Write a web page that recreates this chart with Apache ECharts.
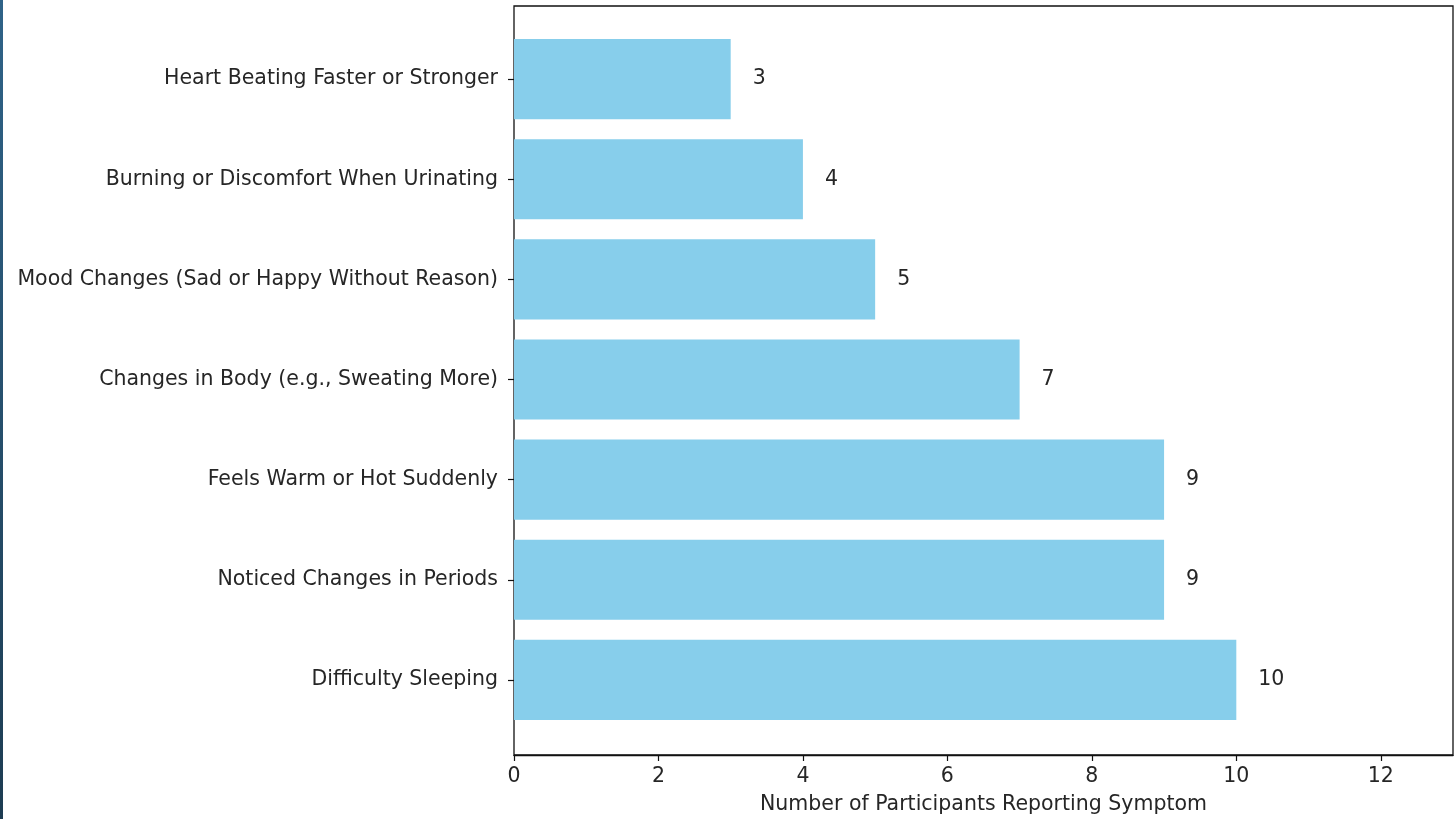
<!DOCTYPE html>
<html>
<head>
<meta charset="utf-8">
<script src="https://cdn.jsdelivr.net/npm/echarts@6/dist/echarts.min.js"></script>
<style>
html,body{margin:0;padding:0;background:#fff;}
#chart{width:1456px;height:819px;}
</style>
</head>
<body>
<div id="chart"></div>
<script>
const categories = [
  "Heart Beating Faster or Stronger",
  "Burning or Discomfort When Urinating",
  "Mood Changes (Sad or Happy Without Reason)",
  "Changes in Body (e.g., Sweating More)",
  "Feels Warm or Hot Suddenly",
  "Noticed Changes in Periods",
  "Difficulty Sleeping"
];
const values = [3, 4, 5, 7, 9, 9, 10];
const xTicks = [0, 2, 4, 6, 8, 10, 12];
const xAxisTitle = "Number of Participants Reporting Symptom";

const FONT = "DejaVu Sans";
const FS = 20.5;
const TXT = '#262626';
const chart = echarts.init(document.getElementById('chart'), null, {renderer: 'canvas'});
const option = {
  backgroundColor: '#ffffff',
  animation: false,
  graphic: [{
    type: 'rect',
    shape: {x: 0, y: 0, width: 3, height: 819},
    style: {fill: new echarts.graphic.LinearGradient(0, 0, 0, 1, [
      {offset: 0, color: '#2f6388'},
      {offset: 1, color: '#1d3c52'}
    ])},
    z: 10
  }],
  grid: [
    {left: 514, right: 3, top: 6, bottom: 64, containLabel: false, outerBoundsMode: 'none',
     show: true, borderColor: '#111', borderWidth: 1.3, backgroundColor: 'transparent'},
    {left: 514, right: 3, top: 29, bottom: 89, containLabel: false, outerBoundsMode: 'none'}
  ],
  xAxis: [
    {
      gridIndex: 0, type: 'value', min: 0, max: 13, interval: 2,
      axisLine: {show: true, onZero: false, lineStyle: {color: '#111', width: 1.3}},
      axisTick: {show: true, length: 6, lineStyle: {color: '#111', width: 1.2}, customValues: xTicks},
      axisLabel: {color: TXT, fontFamily: FONT, fontSize: FS, margin: 11, customValues: xTicks},
      splitLine: {show: false},
      name: xAxisTitle, nameLocation: 'middle', nameGap: 39,
      nameTextStyle: {color: TXT, fontFamily: FONT, fontSize: FS}
    },
    {
      gridIndex: 1, type: 'value', min: 0, max: 13, show: false
    }
  ],
  yAxis: [
    {
      gridIndex: 0, type: 'value', min: 0, max: 1, show: false
    },
    {
      gridIndex: 1, type: 'category', data: categories, inverse: true,
      axisLine: {show: false},
      axisTick: {show: true, alignWithLabel: true, length: 6, lineStyle: {color: '#111', width: 1.2}},
      axisLabel: {color: TXT, fontFamily: FONT, fontSize: FS, margin: 16},
      splitLine: {show: false}
    }
  ],
  series: [{
    type: 'bar',
    xAxisIndex: 1, yAxisIndex: 1,
    data: values,
    barWidth: '80%',
    itemStyle: {color: '#87CEEB'},
    label: {
      show: true, position: 'right', distance: 22,
      color: TXT, fontFamily: FONT, fontSize: FS
    }
  }]
};
chart.setOption(option);
</script>
</body>
</html>
